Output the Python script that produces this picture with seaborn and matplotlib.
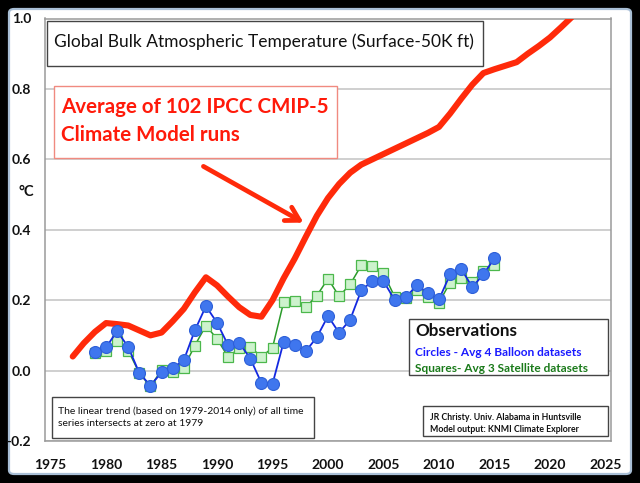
import pandas as pd
import seaborn as sns
import matplotlib.pyplot as plt
from matplotlib.patches import FancyBboxPatch, Rectangle

# ---- data ----
model_years = list(range(1977, 2023))
model_temp = [0.040, 0.078, 0.110, 0.135, 0.132, 0.128, 0.114, 0.100, 0.108, 0.140,
              0.175, 0.222, 0.265, 0.242, 0.210, 0.180, 0.158, 0.153, 0.200, 0.262,
              0.318, 0.380, 0.440, 0.490, 0.530, 0.562, 0.585, 0.600, 0.615, 0.630,
              0.645, 0.660, 0.675, 0.692, 0.730, 0.772, 0.812, 0.845, 0.856, 0.866,
              0.876, 0.900, 0.922, 0.946, 0.975, 1.005]

obs_years = list(range(1979, 2016))
balloon = [0.053, 0.066, 0.112, 0.067, -0.007, -0.043, -0.005, 0.007, 0.029, 0.114,
           0.183, 0.136, 0.072, 0.079, 0.034, -0.035, -0.038, 0.081, 0.074, 0.055,
           0.095, 0.155, 0.107, 0.145, 0.228, 0.254, 0.254, 0.201, 0.208, 0.242,
           0.221, 0.202, 0.273, 0.289, 0.237, 0.273, 0.319]
satellite = [0.050, 0.055, 0.085, 0.057, -0.007, -0.045, 0.001, -0.005, 0.008, 0.071,
             0.128, 0.090, 0.039, 0.063, 0.067, 0.039, 0.065, 0.194, 0.197, 0.180,
             0.213, 0.261, 0.211, 0.245, 0.299, 0.297, 0.276, 0.210, 0.207, 0.230,
             0.210, 0.193, 0.250, 0.264, 0.251, 0.283, 0.299]

x_ticks = list(range(1975, 2030, 5))
y_ticks = [-0.2, 0.0, 0.2, 0.4, 0.6, 0.8, 1.0]

model = pd.DataFrame({"year": model_years, "temp": model_temp})
obs = pd.DataFrame({"year": obs_years, "balloon": balloon, "satellite": satellite})

sns.set_style("white")
plt.rcParams["font.family"] = ["Lato", "DejaVu Sans"]

W, H = 640, 483
fig = plt.figure(figsize=(W / 100, H / 100), dpi=100)
fig.patch.set_facecolor("black")


def fx(x):
    return x / W


def fy(y):
    return 1 - y / H


# white panel with pale blue rim
fig.patches.append(FancyBboxPatch((fx(9), fy(474)), fx(622), 465 / H,
                                  boxstyle="round,pad=0,rounding_size=0.008",
                                  transform=fig.transFigure, facecolor="white",
                                  edgecolor="#a9bfd6", linewidth=1.6, zorder=-5))

ax = fig.add_axes([fx(45), fy(441), fx(611 - 45), (441 - 18.5) / H])
ax.set_facecolor("white")

sns.lineplot(data=model, x="year", y="temp", ax=ax, color="#ff2a0a", lw=4.4,
             solid_capstyle="round", zorder=3)
sns.lineplot(data=obs, x="year", y="satellite", ax=ax, color="#2a9a2a", lw=1.1,
             marker="s", markersize=7.6, markerfacecolor="#cdf2cd",
             markeredgecolor="#4cb84c", markeredgewidth=0.9, zorder=4)
sns.lineplot(data=obs, x="year", y="balloon", ax=ax, color="#1428e0", lw=1.3,
             marker="o", markersize=8.6, markerfacecolor="#3f76ee",
             markeredgecolor="#2d5fd8", markeredgewidth=0.8, zorder=5)

ax.set_xlim(1974.5, 2025.5)
ax.set_ylim(-0.2, 1.0)
ax.set_xticks(x_ticks)
ax.set_xticks(range(1975, 2026), minor=True)
ax.set_yticks(y_ticks)
ax.set_yticklabels([f"{v:.1f}" for v in y_ticks])
ax.set_xlabel("")
ax.set_ylabel("")
ax.grid(axis="y", color="#cccccc", lw=1.3)
ax.grid(axis="x", visible=False)
for s in ax.spines.values():
    s.set_color("#9a9a9a")
    s.set_linewidth(1.1)
ax.tick_params(axis="both", which="both", color="#9a9a9a", direction="out")
ax.tick_params(axis="x", which="major", length=4, pad=9)
ax.tick_params(axis="x", which="minor", length=4)
ax.tick_params(axis="y", length=4, pad=6)
for lab in ax.get_xticklabels() + ax.get_yticklabels():
    lab.set_fontweight("bold")
    lab.set_fontsize(10)
    lab.set_color("#111111")

fig.text(fx(26), fy(192), "°C", ha="center", va="center", fontsize=10.5,
         fontweight="bold", color="#111111")


def box(x0, y0, x1, y1, ec, lw=1.0):
    fig.patches.append(Rectangle((fx(x0), fy(y1)), fx(x1 - x0), (y1 - y0) / H,
                                 transform=fig.transFigure, facecolor="white",
                                 edgecolor=ec, linewidth=lw, zorder=6))


# title box
box(47, 21, 483, 66, "#444444")
fig.text(fx(54), fy(42), "Global Bulk Atmospheric Temperature (Surface-50K ft)",
         ha="left", va="center", fontsize=12.5, color="#111111", zorder=7)

# model box
box(54, 86, 337, 158, "#f08a80")
fig.text(fx(61), fy(107), "Average of 102 IPCC CMIP-5", ha="left", va="center",
         fontsize=14.8, fontweight="bold", color="#ff1a0a", zorder=7)
fig.text(fx(61), fy(135), "Climate Model runs", ha="left", va="center",
         fontsize=14.8, fontweight="bold", color="#ff1a0a", zorder=7)

ax.annotate("", xy=(fx(306), fy(224)), xycoords="figure fraction",
            xytext=(fx(201), fy(165)), textcoords="figure fraction",
            arrowprops=dict(arrowstyle="->,head_length=0.95,head_width=0.55",
                            color="#ff2a0a", lw=3.4), zorder=7)

# observations box
box(409, 319, 608, 375, "#444444")
fig.text(fx(415), fy(331), "Observations", ha="left", va="center", fontsize=12.3,
         fontweight="bold", color="#111111", zorder=7)
fig.text(fx(415), fy(352), "Circles - Avg 4 Balloon datasets", ha="left",
         va="center", fontsize=8.6, fontweight="bold", color="#1a1aff", zorder=7)
fig.text(fx(415), fy(368), "Squares- Avg 3 Satellite datasets", ha="left",
         va="center", fontsize=8.6, fontweight="bold", color="#1a7a1a", zorder=7)

# trend note
box(52, 397, 314, 438, "#444444")
fig.text(fx(58), fy(411), "The linear trend (based on 1979-2014 only) of all time",
         ha="left", va="center", fontsize=7.5, color="#111111", zorder=7)
fig.text(fx(58), fy(424), "series intersects at zero at 1979",
         ha="left", va="center", fontsize=7.5, color="#111111", zorder=7)

# credits
box(423, 406, 608, 436, "#444444")
fig.text(fx(430), fy(417), "JR Christy. Univ. Alabama in Huntsville", ha="left",
         va="center", fontsize=6.3, fontweight="bold", color="#111111", zorder=7)
fig.text(fx(430), fy(429), "Model output: KNMI Climate Explorer", ha="left",
         va="center", fontsize=6.3, fontweight="bold", color="#111111", zorder=7)

plt.savefig("out.png", dpi=100, facecolor=fig.get_facecolor())
